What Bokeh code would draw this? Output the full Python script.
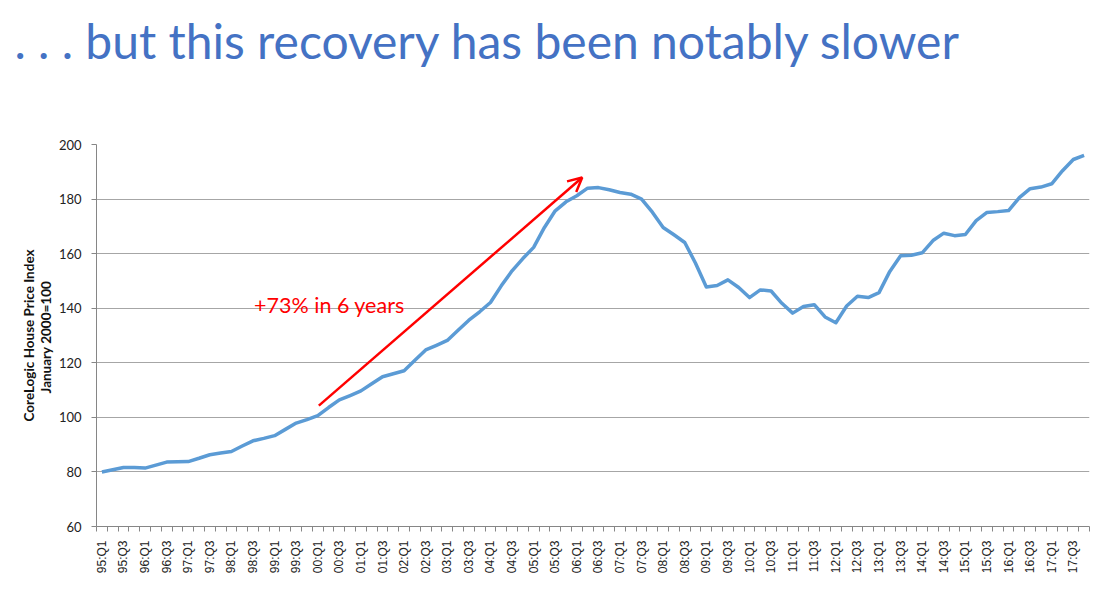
import math
from bokeh.plotting import figure
from bokeh.models import FixedTicker, Label, Arrow, OpenHead, Range1d, ColumnDataSource
from bokeh.embed import file_html
from bokeh.resources import INLINE

# ---- data ----
years = [95, 96, 97, 98, 99, 0, 1, 2, 3, 4, 5, 6, 7, 8, 9, 10, 11, 12, 13, 14, 15, 16, 17]
quarters = [f"{y:02d}:Q{q}" for y in years for q in (1, 2, 3, 4)]

hpi = [
    80.0, 80.8, 81.6, 81.6,      # 1995
    81.4, 82.5, 83.6, 83.7,      # 1996
    83.8, 85.0, 86.3, 86.9,      # 1997
    87.5, 89.5, 91.4, 92.3,      # 1998
    93.3, 95.6, 97.9, 99.2,      # 1999
    100.6, 103.6, 106.4, 108.0,  # 2000
    109.7, 112.3, 114.9, 116.0,  # 2001
    117.1, 120.9, 124.7, 126.4,  # 2002
    128.2, 131.9, 135.6, 138.7,  # 2003
    142.1, 148.2, 153.7, 158.2,  # 2004
    162.3, 169.6, 175.7, 179.0,  # 2005
    181.2, 184.0, 184.2, 183.4,  # 2006
    182.4, 181.8, 180.0, 175.2,  # 2007
    169.6, 166.9, 164.1, 156.5,  # 2008
    147.8, 148.3, 150.4, 147.6,  # 2009
    143.9, 146.7, 146.3, 141.8,  # 2010
    138.2, 140.6, 141.3, 136.8,  # 2011
    134.7, 140.8, 144.4, 143.9,  # 2012
    145.7, 153.5, 159.2, 159.4,  # 2013
    160.3, 164.8, 167.5, 166.6,  # 2014
    167.0, 172.1, 175.1, 175.4,  # 2015
    175.8, 180.5, 183.8, 184.4,  # 2016
    185.6, 190.4, 194.5, 196.0,  # 2017
]
y_ticks = [60, 80, 100, 120, 140, 160, 180, 200]

title_text = ". . . but this recovery has been notably slower"
y_label = "CoreLogic House Price Index\nJanuary  2000=100"
note_text = "+73% in 6 years"

# annotation anchor points (in quarter index / index value)
arrow_start = (20.1, 104.3)
arrow_end = (44.5, 187.9)
note_pos = (14.1, 141.3)

idx = list(range(len(quarters)))
src = ColumnDataSource(dict(x=idx, y=hpi, q=quarters))

p = figure(width=1100, height=595,
           x_range=Range1d(-0.5, len(quarters) - 0.5),
           y_range=Range1d(60, 200),
           output_backend="svg", toolbar_location=None,
           min_border_left=96, min_border_right=11,
           min_border_top=144, min_border_bottom=69)
p.outline_line_color = None
p.background_fill_color = "white"
p.border_fill_color = "white"

# title (a blank second line lifts the title to the top of the border area)
p.title.text = title_text + "\n\u00a0"
p.title.text_font = "Lato"
p.title.text_font_size = "48px"
p.title.text_font_style = "normal"
p.title.text_color = "#4472C4"
p.title.text_line_height = 1.30
p.title.align = "left"
p.title.vertical_align = "top"
p.title.offset = -82
p.title.standoff = 0

p.line("x", "y", source=src, line_color="#5B9BD5", line_width=3.5, line_join="round")

# grids
p.xgrid.visible = False
p.ygrid.ticker = FixedTicker(ticks=y_ticks)
p.ygrid.grid_line_color = "#A6A6A6"
p.ygrid.grid_line_width = 1

# y axis
ya = p.yaxis[0]
ya.ticker = FixedTicker(ticks=y_ticks)
ya.axis_line_color = "#868686"
ya.major_tick_line_color = "#868686"
ya.major_tick_out = 5
ya.major_tick_in = 0
ya.minor_tick_line_color = None
ya.major_label_text_font = "Lato"
ya.major_label_text_font_size = "13px"
ya.major_label_text_color = "#222222"
ya.major_label_standoff = 10
ya.axis_label = y_label
ya.axis_label_text_font = "Lato"
ya.axis_label_text_font_style = "bold"
ya.axis_label_text_font_size = "13.5px"
ya.axis_label_text_line_height = 1.05
ya.axis_label_text_color = "#111111"
ya.axis_label_standoff = 2

# x axis
xa = p.xaxis[0]
xa.ticker = FixedTicker(ticks=idx[::2], minor_ticks=[i - 0.5 for i in range(len(quarters) + 1)])
xa.major_label_overrides = {i: quarters[i] for i in idx[::2]}
xa.major_label_orientation = math.pi / 2
xa.major_label_text_font = "Liberation Sans"
xa.major_label_text_font_size = "12px"
xa.major_label_text_color = "#222222"
xa.major_tick_out = 0
xa.major_tick_in = 0
xa.minor_tick_out = 5
xa.minor_tick_in = 0
xa.minor_tick_line_color = "#868686"
xa.axis_line_color = "#868686"
xa.major_label_standoff = 9

# annotations
p.add_layout(Arrow(end=OpenHead(line_color="#FF0000", line_width=2.5, size=14),
                   x_start=arrow_start[0], y_start=arrow_start[1],
                   x_end=arrow_end[0], y_end=arrow_end[1],
                   line_color="#FF0000", line_width=2.5))
p.add_layout(Label(x=note_pos[0], y=note_pos[1], text=note_text,
                   text_color="#FF0000", text_font="Lato", text_font_size="21.5px",
                   text_baseline="middle", text_align="left"))

open("out.html", "w").write(file_html(p, INLINE))
